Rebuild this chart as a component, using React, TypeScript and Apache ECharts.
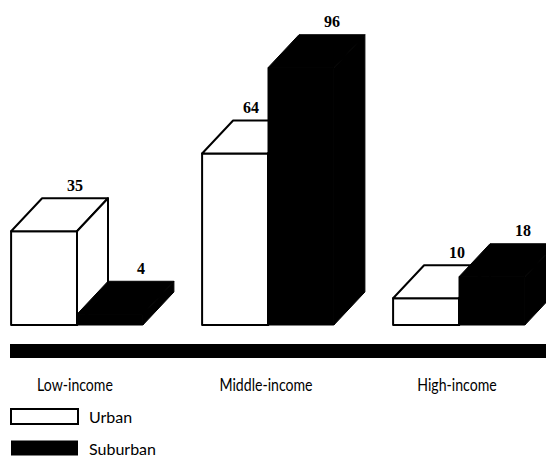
import React, { useEffect, useRef } from "react";
import * as echarts from "echarts";

// Household counts by income group
const categories = ["Low-income", "Middle-income", "High-income"];
const seriesNames = ["Urban", "Suburban"];
const urban = [35, 64, 10];
const suburban = [4, 96, 18];

// Oblique projection used for the 3D block look
const DEPTH_X = 31;
const DEPTH_Y = 33;
const BAR_FRACTION = 0.345;

// the chart canvas is wider than the frame so the outer bands can bleed off
const BLEED = 30;
const CHART_W = 606;
const CHART_H = 457;

const labelFont = "Lato, 'Liberation Sans', sans-serif";
const valueFont = "'Liberation Serif', 'DejaVu Serif', serif";

function makeRenderer(seriesIndex: number) {
  const isUrban = seriesIndex === 0;
  return (_params: any, api: any) => {
    const cat = api.value(0);
    const val = api.value(1);
    const base = api.coord([cat, 0]);
    const top = api.coord([cat, val]);
    const w = api.size([1, 0])[0] * BAR_FRACTION;
    const x0 = isUrban ? base[0] - w : base[0];
    const x1 = x0 + w;
    const yb = base[1];
    const yt = top[1];
    const style = {
      fill: isUrban ? "#fff" : "#000",
      stroke: "#000",
      lineWidth: isUrban ? 2 : 1,
      lineJoin: "round",
    };

    // value label sits above the back edge of the top face
    let lx = x0 + DEPTH_X + w / 2;
    const ly = yt - DEPTH_Y - 13;
    if (isUrban) {
      // keep the label clear of a taller neighbouring block
      const otherTop = api.coord([cat, suburban[cat]])[1];
      let boundary = Infinity;
      if (ly >= otherTop) boundary = x1;
      else if (ly >= otherTop - DEPTH_Y)
        boundary = x1 + ((otherTop - ly) * DEPTH_X) / DEPTH_Y;
      lx = Math.min(lx, boundary - 17);
    }

    return {
      type: "group",
      children: [
        {
          type: "rect",
          shape: { x: x0, y: yt, width: w, height: yb - yt },
          style,
        },
        {
          type: "polygon",
          shape: {
            points: [
              [x0, yt],
              [x0 + DEPTH_X, yt - DEPTH_Y],
              [x1 + DEPTH_X, yt - DEPTH_Y],
              [x1, yt],
            ],
          },
          style,
        },
        {
          type: "polygon",
          shape: {
            points: [
              [x1, yt],
              [x1 + DEPTH_X, yt - DEPTH_Y],
              [x1 + DEPTH_X, yb - DEPTH_Y],
              [x1, yb],
            ],
          },
          style,
        },
        {
          type: "text",
          x: lx,
          y: ly,
          style: {
            text: String(val),
            align: "center",
            verticalAlign: "middle",
            fontSize: 16,
            fontWeight: "bold",
            fontFamily: valueFont,
            fill: "#000",
          },
        },
      ],
    };
  };
}

// condensed category captions under each income group
function renderCategoryLabel(_params: any, api: any) {
  const cat = api.value(0);
  const base = api.coord([cat, 0]);
  return {
    type: "text",
    x: base[0] - 2,
    y: base[1] + 59,
    scaleX: 0.83,
    style: {
      text: categories[cat],
      align: "center",
      verticalAlign: "middle",
      fontSize: 17,
      fontFamily: labelFont,
      fill: "#000",
    },
  };
}

export default function App() {
  const ref = useRef<HTMLDivElement>(null);

  useEffect(() => {
    if (!ref.current) return;
    const chart = echarts.init(ref.current, null, { renderer: "svg" });
    chart.setOption({
      animation: false,
      backgroundColor: "#fff",
      grid: {
        left: BLEED - 18.5,
        right: CHART_W - BLEED - 554.5,
        top: 57,
        bottom: 132,
      },
      xAxis: {
        type: "category",
        data: categories,
        axisLine: { show: false },
        axisTick: { show: false },
        axisLabel: { show: false },
      },
      yAxis: { type: "value", min: 0, max: 100, show: false },
      legend: {
        orient: "vertical",
        left: BLEED + 10,
        top: 408,
        padding: 0,
        itemWidth: 67,
        itemHeight: 15,
        itemGap: 15,
        icon: "rect",
        selectedMode: false,
        textStyle: {
          fontSize: 16,
          fontFamily: labelFont,
          color: "#000",
          padding: [0, 0, 0, 6],
        },
        data: [
          {
            name: seriesNames[0],
            itemStyle: { color: "#fff", borderColor: "#000", borderWidth: 2 },
          },
          { name: seriesNames[1], itemStyle: { color: "#000" } },
        ],
      },
      graphic: [
        {
          type: "rect",
          shape: { x: BLEED + 10, y: 344, width: 560, height: 14 },
          style: { fill: "#000" },
          silent: true,
        },
      ],
      series: [
        {
          type: "custom",
          name: seriesNames[0],
          itemStyle: { color: "#fff", borderColor: "#000" },
          renderItem: makeRenderer(0),
          data: urban.map((v, i) => [i, v]),
        },
        {
          type: "custom",
          name: seriesNames[1],
          itemStyle: { color: "#000" },
          renderItem: makeRenderer(1),
          data: suburban.map((v, i) => [i, v]),
        },
        {
          type: "custom",
          name: "categoryLabels",
          silent: true,
          renderItem: renderCategoryLabel,
          data: categories.map((_c, i) => [i, 0]),
        },
      ],
    });
    return () => chart.dispose();
  }, []);

  return (
    <div
      style={{
        position: "absolute",
        left: 0,
        top: 0,
        width: 546,
        height: CHART_H,
        overflow: "hidden",
      }}
    >
      <div
        ref={ref}
        style={{
          position: "absolute",
          left: -BLEED,
          top: 0,
          width: CHART_W,
          height: CHART_H,
        }}
      />
    </div>
  );
}
